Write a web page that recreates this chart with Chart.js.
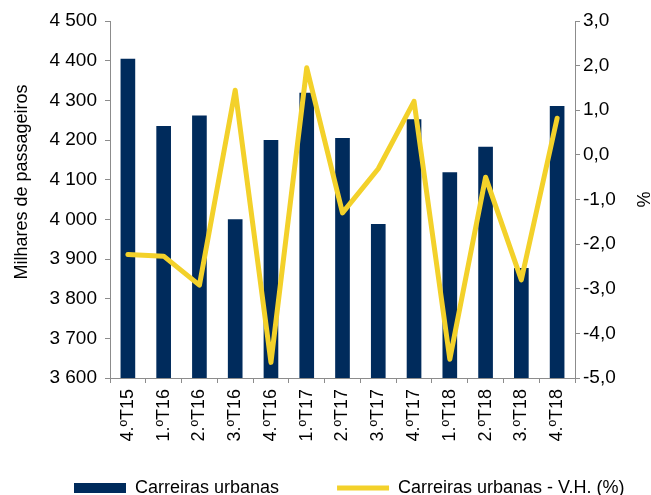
<!DOCTYPE html>
<html>
<head>
<meta charset="utf-8">
<script src="https://cdn.jsdelivr.net/npm/chart.js@4/dist/chart.umd.min.js"></script>
<style>
  html, body { margin: 0; padding: 0; background: #ffffff; }
  #wrap { width: 651px; height: 495px; }
</style>
</head>
<body>
<div id="wrap"><canvas id="c" width="651" height="495"></canvas></div>
<script>
const categories = ['4.ºT15','1.ºT16','2.ºT16','3.ºT16','4.ºT16','1.ºT17','2.ºT17','3.ºT17','4.ºT17','1.ºT18','2.ºT18','3.ºT18','4.ºT18'];
const passengers = [4405, 4235, 4262, 4000, 4200, 4319, 4205, 3988, 4252, 4119, 4183, 3877, 4286];
const variation = [-2.23, -2.27, -2.92, 1.45, -4.65, 1.95, -1.30, -0.31, 1.20, -4.58, -0.50, -2.80, 0.82];
const leftTicks = [3600, 3700, 3800, 3900, 4000, 4100, 4200, 4300, 4400, 4500];
const rightTicks = [-5, -4, -3, -2, -1, 0, 1, 2, 3];

const FONT = "'Liberation Sans', Arial, sans-serif";
const AXIS_GRAY = '#8c8c8c';

// Moves the legend box up so it sits where the reference legend is,
// while keeping wide horizontal spacing between items.
const legendShift = {
  id: 'legendShift',
  afterLayout(chart) {
    const lg = chart.legend;
    if (lg) { lg.top -= 27; lg.bottom -= 27; }
  }
};

const chart = new Chart(document.getElementById('c'), {
  data: {
    labels: categories,
    datasets: [
      {
        type: 'bar',
        label: 'Carreiras urbanas',
        data: passengers,
        yAxisID: 'y',
        backgroundColor: '#002b5c',
        borderWidth: 0,
        categoryPercentage: 1,
        barPercentage: 0.41,
        pointStyle: 'rect',
        order: 1
      },
      {
        type: 'line',
        label: 'Carreiras urbanas - V.H. (%)',
        data: variation,
        yAxisID: 'y1',
        borderColor: '#f3d12a',
        backgroundColor: '#f3d12a',
        borderWidth: 5,
        borderCapStyle: 'round',
        borderJoinStyle: 'round',
        pointRadius: 0,
        pointHoverRadius: 0,
        pointStyle: 'line',
        tension: 0,
        fill: false,
        order: 0
      }
    ]
  },
  plugins: [legendShift],
  options: {
    responsive: false,
    animation: false,
    devicePixelRatio: 1,
    layout: { padding: { top: 21, left: 16, right: -50, bottom: -39 } },
    plugins: {
      tooltip: { enabled: false },
      legend: {
        position: 'bottom',
        align: 'start',
        labels: {
          usePointStyle: true,
          pointStyleWidth: 52,
          boxHeight: 10,
          padding: 58,
          color: '#000000',
          font: { family: FONT, size: 18 },
          sort: (a, b) => a.datasetIndex - b.datasetIndex
        }
      }
    },
    scales: {
      x: {
        type: 'category',
        offset: true,
        grid: { offset: true, drawOnChartArea: false, drawTicks: true, tickLength: 5, color: AXIS_GRAY, lineWidth: 1 },
        border: { display: true, color: AXIS_GRAY, width: 1 },
        ticks: {
          autoSkip: false,
          minRotation: 90,
          maxRotation: 90,
          padding: 6,
          color: '#000000',
          font: { family: FONT, size: 18 }
        },
        afterFit: (s) => { s.height = 70; }
      },
      y: {
        type: 'linear',
        position: 'left',
        min: 3600,
        max: 4500,
        afterBuildTicks: (s) => { s.ticks = leftTicks.map(v => ({ value: v })); },
        grid: { drawOnChartArea: false, drawTicks: true, tickLength: 5, color: AXIS_GRAY },
        border: { display: true, color: AXIS_GRAY, width: 1 },
        ticks: {
          padding: 8,
          color: '#000000',
          font: { family: FONT, size: 19 },
          callback: (v) => String(v).replace(/\B(?=(\d{3})+(?!\d))/g, ' ')
        },
        title: {
          display: true,
          text: '       Milhares de passageiros',
          color: '#000000',
          font: { family: FONT, size: 18 },
          padding: { top: -5, bottom: 0 }
        },
        afterFit: (s) => { s.width = 94; }
      },
      y1: {
        type: 'linear',
        position: 'right',
        min: -5,
        max: 3,
        afterBuildTicks: (s) => { s.ticks = rightTicks.map(v => ({ value: v })); },
        grid: { drawOnChartArea: false, drawTicks: true, tickLength: 5, color: AXIS_GRAY },
        border: { display: true, color: AXIS_GRAY, width: 1 },
        ticks: {
          padding: 3,
          color: '#000000',
          font: { family: FONT, size: 19 },
          callback: (v) => v.toFixed(1).replace('.', ',')
        },
        title: {
          display: true,
          text: '%',
          color: '#000000',
          font: { family: FONT, size: 18 },
          padding: { top: 48, bottom: 0 }
        },
        afterFit: (s) => { s.width = 126; }
      }
    }
  }
});
</script>
</body>
</html>
